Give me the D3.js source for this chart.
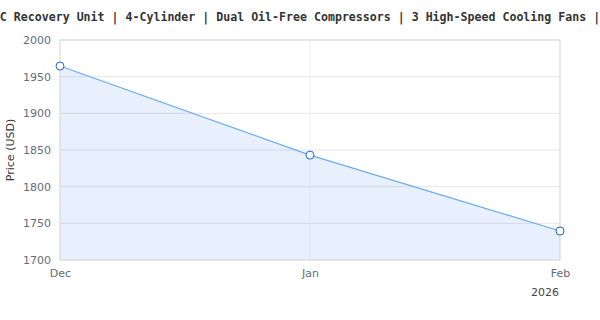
<!DOCTYPE html>
<html>
<head>
<meta charset="utf-8">
<script src="https://cdn.jsdelivr.net/npm/d3@7"></script>
<style>
  body { margin: 0; background: #fff; }
  svg { display: block; }
</style>
</head>
<body>
<div id="chart"></div>
<script>
// data
const dates = ["2025-12-01", "2026-01-01", "2026-02-01"];
const prices = [1964.5, 1843, 1739.5];
const yTicks = [1700, 1750, 1800, 1850, 1900, 1950, 2000];
const xTickLabels = ["Dec", "Jan", "Feb"];
const titleText = "C Recovery Unit | 4-Cylinder | Dual Oil-Free Compressors | 3 High-Speed Cooling Fans |";

const width = 600, height = 320;
const margin = { top: 40, right: 40, bottom: 60, left: 60 };
const innerW = width - margin.left - margin.right;
const innerH = height - margin.top - margin.bottom;

const parse = d3.timeParse("%Y-%m-%d");
const data = dates.map((d, i) => ({ date: parse(d), price: prices[i] }));

const svg = d3.select("#chart").append("svg")
    .attr("width", width)
    .attr("height", height);

const g = svg.append("g")
    .attr("transform", `translate(${margin.left},${margin.top})`);

const x = d3.scaleTime()
    .domain(d3.extent(data, d => d.date))
    .range([0, innerW]);

const y = d3.scaleLinear()
    .domain([1700, 2000])
    .range([innerH, 0]);

// horizontal grid
g.selectAll(".hgrid")
    .data(yTicks)
    .enter().append("line")
    .attr("x1", 0).attr("x2", innerW)
    .attr("y1", d => y(d)).attr("y2", d => y(d))
    .attr("stroke", "#e6e6e6")
    .attr("stroke-width", 1);

// vertical grid
g.selectAll(".vgrid")
    .data(data)
    .enter().append("line")
    .attr("x1", d => x(d.date)).attr("x2", d => x(d.date))
    .attr("y1", 0).attr("y2", innerH)
    .attr("stroke", "#efefef")
    .attr("stroke-width", 1);

// area + line
const area = d3.area()
    .x(d => x(d.date))
    .y0(innerH)
    .y1(d => y(d.price));

g.append("path")
    .datum(data)
    .attr("d", area)
    .attr("fill", "rgba(66, 133, 244, 0.12)");

const line = d3.line()
    .x(d => x(d.date))
    .y(d => y(d.price));

g.append("path")
    .datum(data)
    .attr("d", line)
    .attr("fill", "none")
    .attr("stroke", "#6aaaf2")
    .attr("stroke-width", 1.2);

// plot border
g.append("rect")
    .attr("x", 0).attr("y", 0)
    .attr("width", innerW).attr("height", innerH)
    .attr("fill", "none")
    .attr("stroke", "#d9d9d9")
    .attr("stroke-width", 1);

// markers
g.selectAll(".pt")
    .data(data)
    .enter().append("circle")
    .attr("cx", d => x(d.date))
    .attr("cy", d => y(d.price))
    .attr("r", 4)
    .attr("fill", "#fff")
    .attr("stroke", "#1a66e8")
    .attr("stroke-width", 1);

// y axis labels
const yAxis = g.append("g")
    .call(d3.axisLeft(y).tickValues(yTicks).tickSize(0).tickPadding(9).tickFormat(d3.format("d")));
yAxis.select(".domain").remove();
yAxis.selectAll("text")
    .attr("fill", "#666b78")
    .style("font-family", "'DejaVu Sans', sans-serif")
    .style("font-size", "11px");

// x axis labels
const xAxis = g.append("g")
    .attr("transform", `translate(0,${innerH})`)
    .call(d3.axisBottom(x).tickValues(data.map(d => d.date)).tickSize(0).tickPadding(9)
        .tickFormat((d, i) => xTickLabels[i]));
xAxis.select(".domain").remove();
xAxis.selectAll("text")
    .attr("fill", "#666b78")
    .style("font-family", "'DejaVu Sans', sans-serif")
    .style("font-size", "11px");

// year label
g.append("text")
    .attr("x", x(data[2].date) - 1)
    .attr("y", innerH + 36)
    .attr("text-anchor", "end")
    .attr("fill", "#444")
    .style("font-family", "'DejaVu Sans', sans-serif")
    .style("font-size", "11px")
    .text("2026");

// y axis title
svg.append("text")
    .attr("transform", `translate(14,${margin.top + innerH / 2}) rotate(-90)`)
    .attr("text-anchor", "middle")
    .attr("fill", "#333")
    .style("font-family", "'DejaVu Sans', sans-serif")
    .style("font-size", "11px")
    .text("Price (USD)");

// title (overflows the frame)
svg.append("text")
    .attr("x", width / 2)
    .attr("y", 21)
    .attr("text-anchor", "middle")
    .attr("fill", "#333")
    .style("font-family", "'DejaVu Sans Mono', monospace")
    .style("font-weight", "bold")
    .style("font-size", "11.6px")
    .text(titleText);
</script>
</body>
</html>
